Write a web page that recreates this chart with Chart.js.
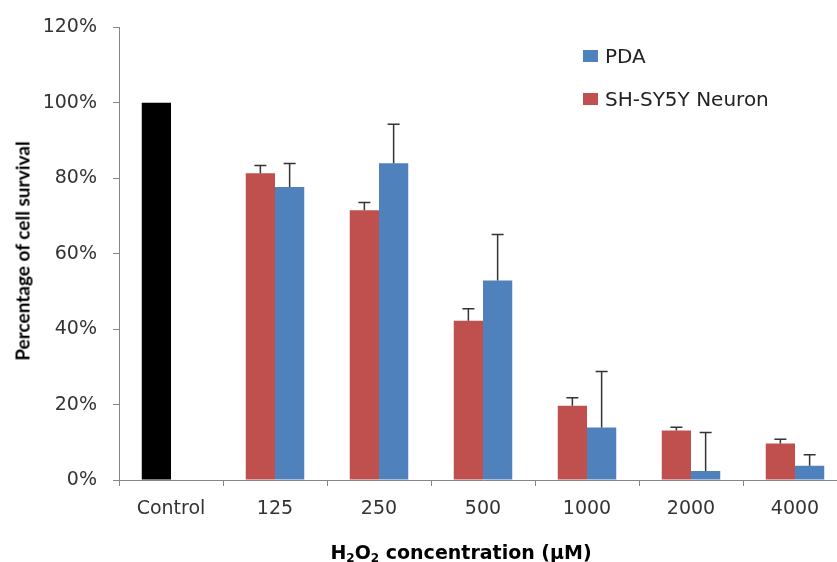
<!DOCTYPE html>
<html>
<head>
<meta charset="utf-8">
<script src="https://cdn.jsdelivr.net/npm/chart.js@4.4.1/dist/chart.umd.min.js"></script>
<style>
  html, body { margin:0; padding:0; background:#fff; overflow:hidden; }
  #wrap { position:relative; width:850px; height:562px; }
  #c { position:absolute; left:0; top:0; }
  #ytitle { position:absolute; left:22px; top:251px; transform:translate(-50%,-50%) rotate(-90deg);
            white-space:nowrap; font-family:Lato, "Open Sans", sans-serif; font-weight:bold; font-size:19px; color:#000; }
  #xtitle { position:absolute; left:461px; top:552px; transform:translate(-50%,-50%);
            white-space:nowrap; font-family:"DejaVu Sans", sans-serif; font-weight:bold; font-size:19px; color:#000; line-height:1; }
  #xtitle sub { font-size:12px; vertical-align:-3px; line-height:0; }
  .lg { position:absolute; left:583px; display:flex; align-items:center; font-family:"DejaVu Sans", sans-serif;
        font-size:20px; color:#222; white-space:nowrap; transform:translateY(-50%); }
  .lg span.box { display:inline-block; width:15px; height:12px; margin-right:7px; }
</style>
</head>
<body>
<div id="wrap">
  <canvas id="c" width="850" height="562"></canvas>
  <div id="ytitle">Percentage of cell survival</div>
  <div id="xtitle">H<sub>2</sub>O<sub>2</sub> concentration (μM)</div>
  <div id="legend"></div>
</div>
<script>
// ---- data ----
const categories = ['Control', '125', '250', '500', '1000', '2000', '4000'];
const neuronLabel = 'SH-SY5Y Neuron';
const neuronValues = [100, 81.3, 71.5, 42.2, 19.7, 13.1, 9.7];
const neuronErrors = [0, 2.1, 2.1, 3.2, 2.1, 0.9, 1.1];
const pdaLabel = 'PDA';
const pdaValues = [null, 77.7, 84.0, 52.9, 13.9, 2.4, 3.8];
const pdaErrors = [0, 6.2, 10.3, 12.2, 14.9, 10.2, 2.9];
const yMin = 0, yMax = 120, yStep = 20;

const RED = '#C0504D', BLUE = '#4F81BD', BLACK = '#000000';
const neuronColors = categories.map((c, i) => i === 0 ? BLACK : RED);

const errorBarPlugin = {
  id: 'errorBars',
  afterDatasetsDraw(chart) {
    const ctx = chart.ctx;
    const yScale = chart.scales.y;
    ctx.save();
    ctx.strokeStyle = '#333333';
    ctx.lineWidth = 1.5;
    chart.data.datasets.forEach((ds, di) => {
      const meta = chart.getDatasetMeta(di);
      meta.data.forEach((el, j) => {
        const v = ds.data[j], e = ds.errors[j];
        if (v == null || !e) return;
        const yTop = yScale.getPixelForValue(v + e);
        ctx.beginPath();
        ctx.moveTo(el.x, el.y);
        ctx.lineTo(el.x, yTop);
        ctx.moveTo(el.x - 6, yTop);
        ctx.lineTo(el.x + 6, yTop);
        ctx.stroke();
      });
    });
    ctx.restore();
  }
};

const tickFont = { family: 'DejaVu Sans', size: 19 };

const chart = new Chart(document.getElementById('c'), {
  type: 'bar',
  data: {
    labels: categories,
    datasets: [
      { label: neuronLabel, data: neuronValues, errors: neuronErrors, backgroundColor: neuronColors, legendColor: RED,
        categoryPercentage: 0.5625, barPercentage: 1.0, borderWidth: 0 },
      { label: pdaLabel, data: pdaValues, errors: pdaErrors, backgroundColor: BLUE, legendColor: BLUE,
        categoryPercentage: 0.5625, barPercentage: 1.0, borderWidth: 0 }
    ]
  },
  options: {
    responsive: false,
    animation: false,
    devicePixelRatio: 1,
    layout: { padding: { top: 24, left: 0, right: 3, bottom: 0 } },
    plugins: { legend: { display: false }, tooltip: { enabled: false } },
    scales: {
      x: {
        grid: { display: true, drawOnChartArea: false, drawTicks: true, tickLength: 6, color: '#868686', offset: true },
        border: { display: true, color: '#868686', width: 1 },
        ticks: { font: tickFont, color: '#333333', padding: 12, maxRotation: 0, autoSkip: false },
        afterFit(scale) { scale.height = 82; }
      },
      y: {
        min: yMin, max: yMax,
        grid: { display: true, drawOnChartArea: false, drawTicks: true, tickLength: 6, color: '#868686' },
        border: { display: true, color: '#868686', width: 1 },
        ticks: { stepSize: yStep, font: tickFont, color: '#333333', padding: 16, callback: v => v + '%' },
        afterFit(scale) { scale.width = 119; }
      }
    }
  },
  plugins: [errorBarPlugin]
});

// HTML legend (reversed order, like the reference)
const legendEl = document.getElementById('legend');
const tops = [56, 99];
chart.data.datasets.slice().reverse().forEach((ds, i) => {
  const d = document.createElement('div');
  d.className = 'lg';
  d.style.top = tops[i] + 'px';
  d.innerHTML = '<span class="box" style="background:' + ds.legendColor + '"></span>' + ds.label;
  legendEl.appendChild(d);
});
</script>
</body>
</html>
